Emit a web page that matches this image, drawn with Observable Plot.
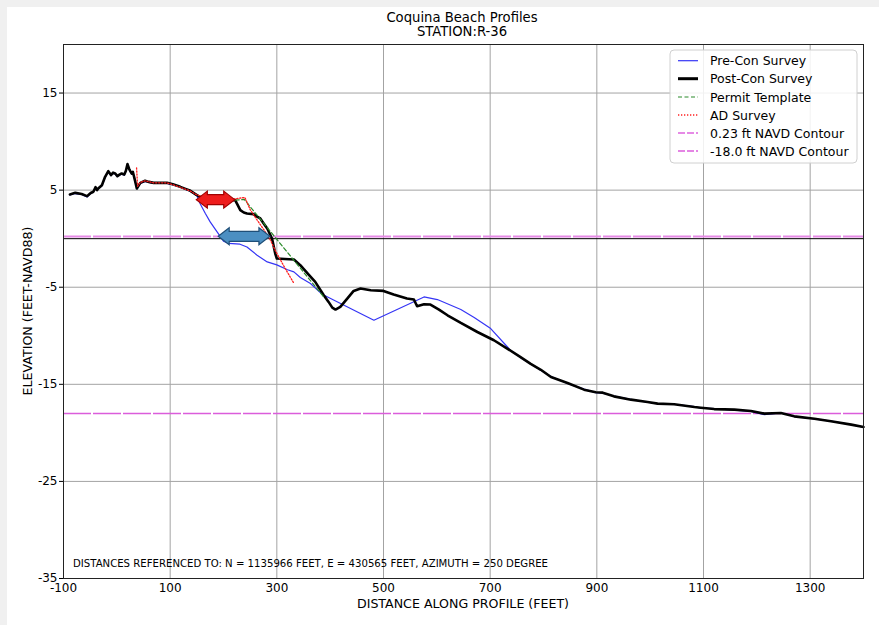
<!DOCTYPE html>
<html><head><meta charset="utf-8">
<script src="https://cdn.jsdelivr.net/npm/d3@7"></script>
<script src="https://cdn.jsdelivr.net/npm/@observablehq/plot@0.6"></script>
<style>
html,body{margin:0;padding:0;background:#f0f0f0;}
#wrap{position:relative;width:879px;height:625px;background:#f0f0f0;overflow:hidden;font-family:"DejaVu Sans",Verdana,sans-serif;color:#000;}
#paper{position:absolute;left:7px;top:7px;right:0;bottom:0;background:#fff;}
#chart{position:absolute;left:0;top:0;}
.title{position:absolute;left:0;width:924px;text-align:center;font-size:13.2px;line-height:14px;}
.xlabel{position:absolute;left:0;width:926px;top:596px;text-align:center;font-size:12.6px;}
.ylabel{position:absolute;left:27px;top:311px;transform:translate(-50%,-50%) rotate(-90deg);white-space:nowrap;font-size:12.6px;}
</style></head>
<body>
<div id="wrap">
  <div id="paper"></div>
  <div id="chart"></div>
  <div class="title" style="top:11px">Coquina Beach Profiles</div>
  <div class="title" style="top:25px">STATION:R-36</div>
  <div class="xlabel">DISTANCE ALONG PROFILE (FEET)</div>
  <div class="ylabel">ELEVATION (FEET-NAVD88)</div>
</div>
<script>
// ---- data ----
const xTicks = [-100, 100, 300, 500, 700, 900, 1100, 1300];
const yTicks = [-35, -25, -15, -5, 5, 15];

const postX = [-88,-78,-66,-56,-49,-44,-40,-37,-35,-28,-22,-16,-11,-7,-3,1,5,9,14,17,20,23,25,28,30,34,37.5,44,53,60,69,80,94,105,119,130,138,150,160,175,190,205,222,225,231.5,238,244,256,262,269,275,282,291,297,300,315,332,344,358,372,388,397,404,410,419,432,444,457,476,500,519,544,557,563,576,588,604,620,645,676,707,732,757,776,795,814,845,876,898,911,932,964,995,1014,1045,1083,1095,1120,1158,1189,1214,1245,1270,1308,1339,1377,1400];
const postY = [4.56,4.72,4.6,4.38,4.7,4.83,5.3,5.0,5.17,5.5,6.37,6.96,6.55,6.8,6.72,6.44,6.6,6.72,6.6,7.0,7.68,7.2,6.99,6.7,6.89,6.0,5.17,5.75,5.96,5.85,5.75,5.75,5.75,5.6,5.34,5.1,4.93,4.48,4.2,4.1,4.0,4.0,3.97,3.63,2.94,2.7,2.6,2.53,2.3,2.08,1.6,1.05,0.02,-1.53,-2.04,-2.1,-2.15,-2.73,-3.6,-4.45,-5.82,-6.51,-7.1,-7.3,-7.03,-6.17,-5.38,-5.14,-5.31,-5.38,-5.75,-6.17,-6.27,-6.96,-6.75,-6.78,-7.3,-7.89,-8.68,-9.61,-10.46,-11.32,-12.2,-12.9,-13.5,-14.25,-14.86,-15.55,-15.82,-15.86,-16.24,-16.58,-16.82,-16.99,-17.06,-17.34,-17.41,-17.55,-17.61,-17.75,-18.02,-17.96,-18.3,-18.54,-18.81,-19.15,-19.4];

const preX = [-88,-78,-66,-56,-49,-44,-40,-37,-35,-28,-22,-16,-11,-7,-3,1,5,9,14,17,20,23,25,28,30,34,37.5,44,53,60,69,80,94,105,119,130,138,150,156,166,175,188,200,210,231,244,263,282,300,320,332,344,363,385,482,576,601,645,670,701,738,757,776,795,814,845,876,898,911,932,964,995,1014,1045,1083,1095,1120,1158,1189,1214,1245,1270,1308,1339,1377,1400];
const preY = [4.5,4.65,4.55,4.3,4.65,4.8,5.2,5.0,5.1,5.45,6.3,6.9,6.5,6.75,6.65,6.4,6.55,6.65,6.55,6.95,7.6,7.15,6.9,6.65,6.8,5.95,5.15,5.7,5.9,5.8,5.7,5.7,5.7,5.55,5.3,5.05,4.88,4.45,3.63,2.6,1.73,0.7,-0.26,-0.49,-0.57,-0.85,-1.7,-2.39,-2.7,-3.2,-3.42,-4.0,-4.62,-5.72,-8.4,-6.0,-6.27,-7.3,-8.12,-9.26,-11.49,-12.25,-12.9,-13.55,-14.2,-14.9,-15.5,-15.85,-15.9,-16.2,-16.55,-16.85,-17.0,-17.05,-17.3,-17.45,-17.5,-17.65,-17.8,-18.12,-17.95,-18.3,-18.55,-18.8,-19.15,-19.4];

const templateX = [222, 239, 388];
const templateY = [3.97, 4.04, -6.0];

const adX = [37,39,44,53,69,94,119,138,150,175,200,222,240,250,262,276,288,297,315,332];
const adY = [7.3,5.4,5.8,5.96,5.75,5.75,5.3,4.9,4.5,4.2,4.05,4.1,4.25,3.0,2.0,0.9,-0.15,-1.2,-3.0,-4.6];

const contourLevels = [0.23, -18.0];
const contourNames = ["0.23 ft NAVD Contour", "-18.0 ft NAVD Contour"];

const arrowStart = [150, 191];
const arrowEnd = [222, 288];
const arrowY = [3.97, 0.19];
const arrowFill = ["#ee1c1c", "#4b8fc2"];
const arrowStroke = ["#a00000", "#1f4f78"];

const legendLabels = ["Pre-Con Survey", "Post-Con Survey", "Permit Template", "AD Survey", contourNames[0], contourNames[1]];

const note = "DISTANCES REFERENCED TO: N = 1135966 FEET, E = 430565 FEET, AZIMUTH = 250 DEGREE";

// ---- styles ----
const S = {
  pre: {stroke: "#3535f5", strokeWidth: 1.2},
  post: {stroke: "#000", strokeWidth: 2.6},
  tmpl: {stroke: "#2a8a2a", strokeWidth: 1.2, strokeDasharray: "4,2.5"},
  ad: {stroke: "#ff2020", strokeWidth: 1.3, strokeDasharray: "1.3,1.7"},
  c1: {stroke: "#e68ae6", strokeWidth: 2, strokeDasharray: "28,2"},
  c2: {stroke: "#db5ddb", strokeWidth: 1.6, strokeDasharray: "28,2"}
};

const pts = (X, Y) => X.map((x, i) => ({x, y: Y[i]}));

const plot = Plot.plot({
  width: 879, height: 625,
  marginLeft: 63, marginRight: 16, marginTop: 44, marginBottom: 47,
  style: {background: "transparent", fontFamily: "DejaVu Sans, Verdana, sans-serif", fontSize: "12px", color: "#000", overflow: "visible"},
  x: {domain: [-100, 1400]},
  y: {domain: [-35, 20]},
  marks: [
    Plot.gridX(xTicks, {stroke: "#a3a3a3", strokeOpacity: 1, strokeWidth: 1}),
    Plot.gridY(yTicks, {stroke: "#a3a3a3", strokeOpacity: 1, strokeWidth: 1}),
    Plot.ruleY([0], {stroke: "#000", strokeWidth: 1}),
    Plot.ruleY([contourLevels[0]], S.c1),
    Plot.ruleY([contourLevels[1]], S.c2),
    Plot.line(pts(preX, preY), {x: "x", y: "y", ...S.pre}),
    Plot.line(pts(postX, postY), {x: "x", y: "y", ...S.post, strokeLinejoin: "round"}),
    Plot.line(pts(templateX, templateY), {x: "x", y: "y", ...S.tmpl}),
    Plot.line(pts(adX, adY), {x: "x", y: "y", ...S.ad}),
    Plot.frame({stroke: "#222", strokeWidth: 1}),
    Plot.axisX(xTicks, {tickSize: 0, tickPadding: 5, label: null, tickFormat: d => String(d)}),
    Plot.axisY(yTicks, {tickSize: 4, tickPadding: 2, label: null, tickFormat: d => String(d)})
  ]
});
document.getElementById("chart").appendChild(plot);

const svg = d3.select(plot);
const sx = plot.scale("x"), sy = plot.scale("y");
const X = v => sx.apply(v), Y = v => sy.apply(v);

// double-headed block arrows
arrowStart.forEach((x0, i) => {
  const a = X(x0), b = X(arrowEnd[i]), y = Y(arrowY[i]);
  const h = 11, H = 8.5, w = 5;
  const p = [[a, y], [a + h, y - H], [a + h, y - w], [b - h, y - w], [b - h, y - H], [b, y], [b - h, y + H], [b - h, y + w], [a + h, y + w], [a + h, y + H]];
  svg.append("path").attr("d", "M" + p.map(q => q.join(",")).join("L") + "Z")
    .attr("fill", arrowFill[i]).attr("stroke", arrowStroke[i]).attr("stroke-width", 1.2).attr("stroke-linejoin", "miter");
});

// reference note
svg.append("text").attr("x", 73).attr("y", 567).attr("font-size", 10).attr("fill", "#000")
  .attr("text-anchor", "start")
  .attr("textLength", 475).attr("lengthAdjust", "spacingAndGlyphs").text(note);

// legend
const lg = svg.append("g").attr("text-anchor", "start");
lg.append("rect").attr("x", 670).attr("y", 50).attr("width", 187).attr("height", 113).attr("rx", 4)
  .attr("fill", "#fff").attr("fill-opacity", 0.85).attr("stroke", "#d0d0d0");
const styles = [S.pre, S.post, S.tmpl, S.ad, S.c1, S.c2];
const rows = [60.7, 78.7, 97, 115, 133, 151];
legendLabels.forEach((t, i) => {
  const st = styles[i];
  lg.append("line").attr("x1", 678).attr("x2", 698).attr("y1", rows[i]).attr("y2", rows[i])
    .attr("stroke", st.stroke).attr("stroke-width", i === 1 ? 3 : st.strokeWidth)
    .attr("stroke-dasharray", i >= 4 ? "7,2" : (st.strokeDasharray || null));
  lg.append("text").attr("x", 710).attr("y", rows[i]).attr("dy", "0.36em").attr("font-size", 12.5)
    .attr("text-anchor", "start").text(t);
});
</script>
</body></html>
